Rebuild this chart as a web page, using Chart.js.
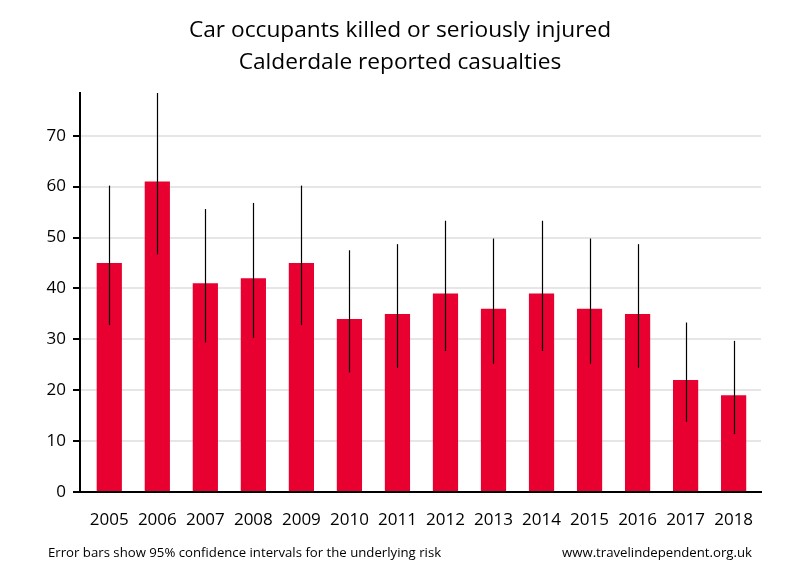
<!DOCTYPE html>
<html>
<head>
<meta charset="utf-8">
<script src="https://cdn.jsdelivr.net/npm/chart.js@4/dist/chart.umd.min.js"></script>
<style>
  html, body { margin: 0; padding: 0; background: #fff; }
  #wrap { position: relative; width: 800px; height: 580px; }
  canvas { position: absolute; left: 0; top: 0; }
  .foot { position: absolute; top: 543px; font-family: "Open Sans", sans-serif; font-size: 13.2px; color: #000; white-space: nowrap; }
  .title { position: absolute; left: 0; width: 800px; text-align: center; font-family: "Open Sans", sans-serif; font-size: 22.7px; color: #000; white-space: nowrap; line-height: 32px; }
</style>
</head>
<body>
<div id="wrap">
  <canvas id="c" width="800" height="580"></canvas>
  <div class="title" id="t1" style="top:13px;"></div>
  <div class="title" id="t2" style="top:45px;"></div>
  <div class="foot" id="fl" style="left:48px;"></div>
  <div class="foot" id="fr" style="right:48px;"></div>
</div>
<script>
const titleLines = ["Car occupants killed or seriously injured", "Calderdale reported casualties"];
const footLeft = "Error bars show 95% confidence intervals for the underlying risk";
const footRight = "www.travelindependent.org.uk";
const years = [2005, 2006, 2007, 2008, 2009, 2010, 2011, 2012, 2013, 2014, 2015, 2016, 2017, 2018];
const yearLabels = ["2005", "2006", "2007", "2008", "2009", "2010", "2011", "2012", "2013", "2014", "2015", "2016", "2017", "2018"];
const casualties = [45, 61, 41, 42, 45, 34, 35, 39, 36, 39, 36, 35, 22, 19];
const ciLower = [32.8, 46.7, 29.4, 30.3, 32.8, 23.5, 24.4, 27.7, 25.2, 27.7, 25.2, 24.4, 13.8, 11.4];
const ciUpper = [60.2, 78.4, 55.6, 56.8, 60.2, 47.5, 48.7, 53.3, 49.8, 53.3, 49.8, 48.7, 33.3, 29.7];
const yTicks = [0, 10, 20, 30, 40, 50, 60, 70];

document.getElementById('t1').textContent = titleLines[0];
document.getElementById('t2').textContent = titleLines[1];
document.getElementById('fl').textContent = footLeft;
document.getElementById('fr').textContent = footRight;

const errorBars = {
  id: 'errorBars',
  afterDatasetsDraw(chart) {
    const { ctx, chartArea, scales } = chart;
    ctx.save();
    ctx.beginPath();
    ctx.rect(chartArea.left, chartArea.top, chartArea.right - chartArea.left, chartArea.bottom - chartArea.top);
    ctx.clip();
    ctx.strokeStyle = '#000';
    ctx.lineWidth = 1.2;
    years.forEach((yr, i) => {
      const x = Math.round(scales.x.getPixelForValue(yr)) + 0.5;
      ctx.beginPath();
      ctx.moveTo(x, scales.y.getPixelForValue(ciLower[i]));
      ctx.lineTo(x, scales.y.getPixelForValue(ciUpper[i]));
      ctx.stroke();
    });
    ctx.restore();
  }
};

new Chart(document.getElementById('c'), {
  type: 'bar',
  data: {
    datasets: [{
      data: years.map((yr, i) => ({ x: yr, y: casualties[i] })),
      backgroundColor: '#E80030',
      borderWidth: 0,
      categoryPercentage: 1,
      barPercentage: 0.525
    }]
  },
  options: {
    responsive: false,
    animation: false,
    layout: { padding: { left: 0, right: 39, top: 93, bottom: 0 } },
    plugins: {
      legend: { display: false },
      tooltip: { enabled: false },
      title: { display: false }
    },
    scales: {
      x: {
        type: 'linear',
        offset: false,
        min: 2004.39,
        max: 2018.57,
        afterFit(s) { s.height = 88; },
        grid: { display: false, drawTicks: false },
        border: { display: true, color: '#000', width: 2 },
        afterBuildTicks(s) { s.ticks = years.map(v => ({ value: v })); },
        ticks: {
          padding: 18,
          color: '#000',
          font: { family: 'Open Sans', size: 17 },
          maxRotation: 0,
          autoSkip: false,
          callback(v) { const i = years.indexOf(v); return i >= 0 ? yearLabels[i] : ''; }
        }
      },
      y: {
        min: 0,
        max: 78.4,
        afterFit(s) { s.width = 80; },
        afterBuildTicks(s) { s.ticks = yTicks.map(v => ({ value: v })); },
        grid: { color: '#e6e6e6', lineWidth: 2, drawTicks: true, tickLength: 7, tickColor: '#000', tickWidth: 2 },
        border: { display: true, color: '#000', width: 2 },
        ticks: {
          padding: 7,
          color: '#000',
          font: { family: 'Open Sans', size: 17 },
          callback(v) { return String(v); }
        }
      }
    }
  },
  plugins: [errorBars]
});
</script>
</body>
</html>
